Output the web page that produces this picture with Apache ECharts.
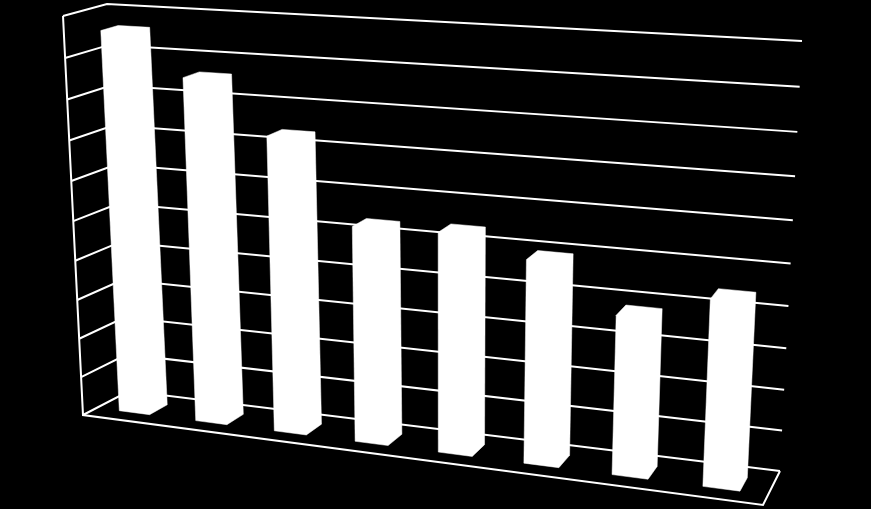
<!DOCTYPE html>
<html>
<head>
<meta charset="utf-8">
<script src="https://cdn.jsdelivr.net/npm/echarts@6/dist/echarts.min.js"></script>
<style>
html,body{margin:0;padding:0;background:#000;}
#chart{width:871px;height:509px;}
</style>
</head>
<body>
<div id="chart"></div>
<script>
// ---- data ----
var categories = ['1', '2', '3', '4', '5', '6', '7', '8'];
var values = [96, 86, 73.5, 53.5, 54, 49.5, 38.5, 44.5];
var yTicks = [0, 10, 20, 30, 40, 50, 60, 70, 80, 90, 100];

// ---- layout of the 3D frame (screen corners of the plot box) ----
var FRONT = { lb: [83, 415], rb: [763, 505], rt: [785, 59], lt: [63, 16] };
var BACK  = { lb: [129, 391], rb: [780, 471], rt: [802, 41], lt: [107, 4] };
var BAR_W0 = 0.3, BAR_W1 = 0.7, BAR_HALF = 0.2;

function squareToQuad(q) {
  var x0 = q.lb[0], y0 = q.lb[1], x1 = q.rb[0], y1 = q.rb[1];
  var x2 = q.rt[0], y2 = q.rt[1], x3 = q.lt[0], y3 = q.lt[1];
  var dx1 = x1 - x2, dx2 = x3 - x2, dx3 = x0 - x1 + x2 - x3;
  var dy1 = y1 - y2, dy2 = y3 - y2, dy3 = y0 - y1 + y2 - y3;
  var den = dx1 * dy2 - dx2 * dy1;
  var g = (dx3 * dy2 - dx2 * dy3) / den;
  var h = (dx1 * dy3 - dx3 * dy1) / den;
  var a = x1 - x0 + g * x1, b = x3 - x0 + h * x3, c = x0;
  var d = y1 - y0 + g * y1, e = y3 - y0 + h * y3, f = y0;
  return function (u, v) {
    var w = g * u + h * v + 1;
    return [(a * u + b * v + c) / w, (d * u + e * v + f) / w];
  };
}
var HF = squareToQuad(FRONT), HB = squareToQuad(BACK);
function proj(u, v, w) {
  var p = HF(u, v), q = HB(u, v);
  return [p[0] + (q[0] - p[0]) * w, p[1] + (q[1] - p[1]) * w];
}
function hull(pts) {
  pts = pts.slice().sort(function (a, b) { return a[0] - b[0] || a[1] - b[1]; });
  function cross(o, a, b) { return (a[0] - o[0]) * (b[1] - o[1]) - (a[1] - o[1]) * (b[0] - o[0]); }
  var lower = [], upper = [], i;
  for (i = 0; i < pts.length; i++) {
    while (lower.length >= 2 && cross(lower[lower.length - 2], lower[lower.length - 1], pts[i]) <= 0) lower.pop();
    lower.push(pts[i]);
  }
  for (i = pts.length - 1; i >= 0; i--) {
    while (upper.length >= 2 && cross(upper[upper.length - 2], upper[upper.length - 1], pts[i]) <= 0) upper.pop();
    upper.push(pts[i]);
  }
  upper.pop(); lower.pop();
  return lower.concat(upper);
}

var chart = echarts.init(document.getElementById('chart'));
var LINE = { stroke: '#ffffff', lineWidth: 2, fill: null };

chart.setOption({
  backgroundColor: '#000000',
  animation: false,
  grid: { left: 0, top: 0, width: 800, height: 400, show: false },
  xAxis: { type: 'category', data: categories, show: false },
  yAxis: { type: 'value', min: 0, max: 100, interval: 10, show: false, splitLine: { show: false } },
  series: [
    {
      type: 'custom',
      z: 1,
      data: yTicks.map(function (t) { return [0, t]; }),
      renderItem: function (params, api) {
        var cs = params.coordSys;
        var py = api.coord([0, api.value(1)])[1];
        var v = (cs.y + cs.height - py) / cs.height;
        var children = [{
          type: 'polyline',
          shape: { points: [proj(0, v, 0), proj(0, v, 1), proj(1, v, 1)] },
          style: LINE
        }];
        if (params.dataIndex === 0) {
          children.push({ type: 'polyline', shape: { points: [proj(0, 1, 0), proj(0, 0, 0), proj(1, 0, 0), proj(1, 0, 1)] }, style: LINE });
        }
        return { type: 'group', children: children };
      }
    },
    {
      type: 'custom',
      z: 2,
      data: values.map(function (v, i) { return [i, v]; }),
      renderItem: function (params, api) {
        var cs = params.coordSys;
        var pt = api.coord([api.value(0), api.value(1)]);
        var band = api.size([1, 0])[0];
        var u0 = (pt[0] - BAR_HALF * band - cs.x) / cs.width;
        var u1 = (pt[0] + BAR_HALF * band - cs.x) / cs.width;
        var v = (cs.y + cs.height - pt[1]) / cs.height;
        var corners = [];
        [u0, u1].forEach(function (u) {
          [0, v].forEach(function (vv) {
            [BAR_W0, BAR_W1].forEach(function (w) { corners.push(proj(u, vv, w)); });
          });
        });
        return {
          type: 'polygon',
          shape: { points: hull(corners) },
          style: { fill: '#ffffff', stroke: '#ffffff', lineWidth: 0.5 }
        };
      }
    }
  ]
});
</script>
</body>
</html>
